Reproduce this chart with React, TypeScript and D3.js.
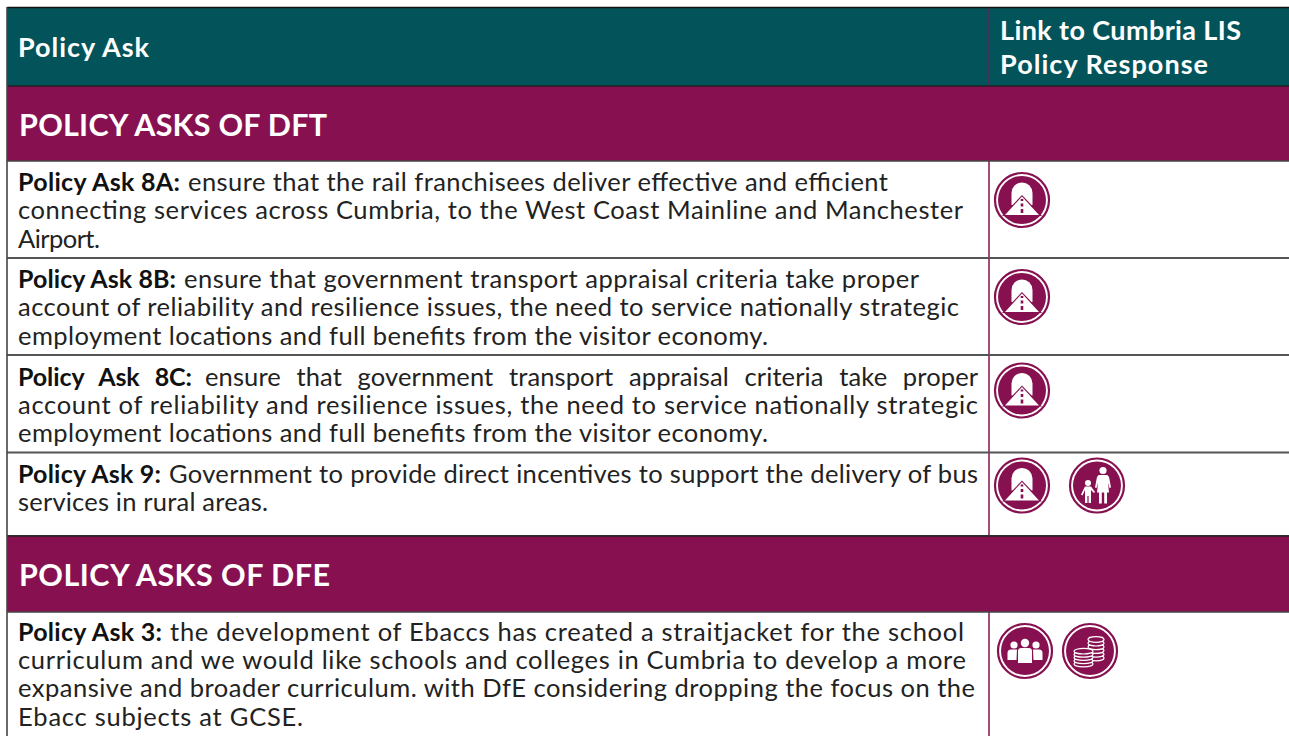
import React from 'react';
import * as d3 from 'd3';

const WIDTH = 1289;
const HEIGHT = 736;
const TEAL = '#03545a';
const PLUM = '#871150';
const FONT = 'Lato, "Open Sans", sans-serif';

// table content
const headerLeft = 'Policy Ask';
const headerRight = ['Link to Cumbria LIS', 'Policy Response'];
const bandTitles = ['POLICY ASKS OF DFT', 'POLICY ASKS OF DFE'];
const askLabels = ['Policy Ask 8A:', 'Policy Ask 8B:', 'Policy Ask 8C:', 'Policy Ask 9:', 'Policy Ask 3:'];
const askLines = [
  ['ensure that the rail franchisees deliver effective and efficient',
    'connecting services across Cumbria, to the West Coast Mainline and Manchester',
    'Airport.'],
  ['ensure that government transport appraisal criteria take proper',
    'account of reliability and resilience issues, the need to service nationally strategic',
    'employment locations and full benefits from the visitor economy.'],
  ['ensure that government transport appraisal criteria take proper',
    'account of reliability and resilience issues, the need to service nationally strategic',
    'employment locations and full benefits from the visitor economy.'],
  ['Government to provide direct incentives to support the delivery of bus',
    'services in rural areas.'],
  ['the development of Ebaccs has created a straitjacket for the school',
    'curriculum and we would like schools and colleges in Cumbria to develop a more',
    'expansive and broader curriculum. with DfE considering dropping the focus on the',
    'Ebacc subjects at GCSE.'],
];
const askIcons = [['road'], ['road'], ['road'], ['road', 'family'], ['people', 'coins']];

// layout
const bandEdges = [[86, 161], [536, 612]];
const rowEdges = [[161, 258], [258, 355], [355, 452.5], [452.5, 536], [612, 736]];
const firstBaseline = [30, 30, 30.5, 30, 28.5];
const labelRight = [180, 176, 192, 161, 162];
const lineRight = [
  [888, 963, 100],
  [919, 959, 768],
  [978, 978, 768],
  [978, 268],
  [964, 966, 975, 303],
];
const justified = [false, false, true, false, false];
const iconY = [39, 39, 35.5, 33, 39];
const iconX = [[1022], [1022], [1022], [1022, 1097], [1025, 1090]];

const lineStep = 28.4;
const textLeft = 18;
const colX = 989;

const RoadIcon = () => {
  const arch = d3.path();
  arch.moveTo(-10.5, 5);
  arch.lineTo(-10.5, -7);
  arch.arc(0, -7, 10.5, Math.PI, 0);
  arch.lineTo(10.5, 5);
  arch.closePath();
  return (
    <g>
      <path d={arch.toString()} fill="#fff" />
      <path d="M0,-5 L-20,16 L20,16 Z" fill={PLUM} />
      <path d="M0,-3.5 L-17,15 L17,15 Z" fill="#fff" />
      {[[-1, 2], [3.5, 3], [9, 4]].map(([y, h], i) => (
        <rect key={i} x={-1.3} y={y} width={2.6} height={h} fill={PLUM} />
      ))}
    </g>
  );
};

const FamilyIcon = () => (
  <g fill="#fff">
    <circle cx={6} cy={-15} r={3.6} />
    <path d="M2,-10.5 L10,-10.5 Q12,-10 12.5,-6 L14,2 L12.5,2.5 L11,-3 L12,7 L10,7 L10,18 L7.2,18 L7.2,7 L4.8,7 L4.8,18 L2,18 L2,7 L0,7 L1,-3 L-0.5,2.5 L-2,2 L-0.5,-6 Q0,-10 2,-10.5 Z" />
    <circle cx={-9} cy={-2.5} r={3} />
    <path d="M-12,1 L-6,1 L-2,6.5 L-3,7.5 L-6,4.5 L-6,17.5 L-8.4,17.5 L-8.4,10.5 L-9.6,10.5 L-9.6,17.5 L-12,17.5 L-12,4.5 L-14.5,10 L-16,9 Z" />
  </g>
);

const PeopleIcon = () => (
  <g fill="#fff">
    <circle cx={-11} cy={-6} r={3.6} />
    <circle cx={11} cy={-6} r={3.6} />
    <path d="M-17.5,9 L-17.5,2 Q-17.5,-1.5 -14,-1.5 L-8,-1.5 L-8.5,9 Z" />
    <path d="M17.5,9 L17.5,2 Q17.5,-1.5 14,-1.5 L8,-1.5 L8.5,9 Z" />
    <circle cx={0} cy={-8} r={4.2} />
    <path d="M-7,12 L-7,0 Q-7,-3 -3.5,-3 L3.5,-3 Q7,-3 7,0 L7,12 Z" />
  </g>
);

const CoinsIcon = () => {
  const tall = d3.range(6).map((i) => 7 - i * 3.7);
  const short = d3.range(5).map((i) => 13 - i * 3.2);
  const coin = (cx: number, cy: number, rx: number, key: string) => (
    <ellipse key={key} cx={cx} cy={cy} rx={rx} ry={2.8} fill={PLUM} stroke="#fff" strokeWidth={1.2} />
  );
  return (
    <g>
      {tall.map((y, i) => coin(6, y, 8, `t${i}`))}
      {short.map((y, i) => coin(-6.5, y, 9.5, `s${i}`))}
    </g>
  );
};

const iconGlyphs: Record<string, React.FC> = {
  road: RoadIcon,
  family: FamilyIcon,
  people: PeopleIcon,
  coins: CoinsIcon,
};

const Icon = ({ kind, x, y }: { kind: string; x: number; y: number }) => {
  const Glyph = iconGlyphs[kind];
  return (
    <g transform={`translate(${x},${y})`}>
      <circle r={27} fill="#fff" stroke={PLUM} strokeWidth={2.2} />
      <circle r={24} fill={PLUM} />
      <Glyph />
    </g>
  );
};

export default function App() {
  const rows = d3.zip(askLabels, askLines, askIcons, rowEdges) as any[];

  return (
    <svg
      width={WIDTH}
      height={HEIGHT}
      viewBox={`0 0 ${WIDTH} ${HEIGHT}`}
      style={{ position: 'absolute', left: 0, top: 0, background: '#fff', fontFamily: FONT }}
    >
      {/* header */}
      <rect x={7} y={8} width={WIDTH - 7} height={78} fill={TEAL} />
      <line x1={colX} x2={colX} y1={8} y2={86} stroke={PLUM} strokeWidth={1} />
      <text x={textLeft} y={57} fill="#fff" fontSize={27} fontWeight={700} textLength={131} lengthAdjust="spacing">
        {headerLeft}
      </text>
      {headerRight.map((t, i) => (
        <text key={t} x={1000} y={40 + i * 34} fill="#fff" fontSize={27} fontWeight={700}
          textLength={i === 0 ? 241 : 208} lengthAdjust="spacing">
          {t}
        </text>
      ))}

      {/* column rule and rows */}
      <line x1={colX} x2={colX} y1={161} y2={536} stroke={PLUM} strokeWidth={1.5} />
      <line x1={colX} x2={colX} y1={612} y2={HEIGHT} stroke={PLUM} strokeWidth={1.5} />

      {rows.map(([label, lines, icons, [top, bottom]], r) => {
        const base = top + firstBaseline[r];
        return (
          <g key={label}>
            <text x={textLeft} y={base} fontSize={25} fontWeight={700} fill="#111"
              wordSpacing={justified[r] ? 9 : 0}
              textLength={labelRight[r] - textLeft} lengthAdjust="spacing">
              {label}
            </text>
            {lines.map((line: string, i: number) => {
              const x = i === 0 ? labelRight[r] + (justified[r] ? 13 : 8) : textLeft;
              return (
                <text key={i} x={x} y={base + i * lineStep} fontSize={25.5} fill="#222"
                  wordSpacing={justified[r] && i === 0 ? 9 : 0}
                  textLength={lineRight[r][i] - x} lengthAdjust="spacing">
                  {line}
                </text>
              );
            })}
            {icons.map((kind: string, i: number) => (
              <Icon key={kind} kind={kind} x={iconX[r][i]} y={top + iconY[r]} />
            ))}
            {r < rows.length - 1 && (
              <line x1={7} x2={WIDTH} y1={bottom} y2={bottom} stroke="#555" strokeWidth={2} />
            )}
          </g>
        );
      })}

      {/* section bands */}
      {bandEdges.map(([y0, y1], i) => (
        <g key={bandTitles[i]}>
          <rect x={7} y={y0} width={WIDTH - 7} height={y1 - y0} fill={PLUM} />
          <text x={textLeft + 1} y={y0 + 49.5} fill="#fff" fontSize={30.5} fontWeight={700}
            textLength={i === 0 ? 308 : 311} lengthAdjust="spacing">
            {bandTitles[i]}
          </text>
          <line x1={7} x2={WIDTH} y1={y0} y2={y0} stroke="#222" strokeWidth={1.4} />
          <line x1={7} x2={WIDTH} y1={y1} y2={y1} stroke="#444" strokeWidth={1.4} />
        </g>
      ))}

      {/* outer edges */}
      <line x1={7} x2={WIDTH} y1={7.5} y2={7.5} stroke="#111" strokeWidth={1.4} />
      <line x1={7} x2={7} y1={7} y2={HEIGHT} stroke="#444" strokeWidth={1.6} />
    </svg>
  );
}
